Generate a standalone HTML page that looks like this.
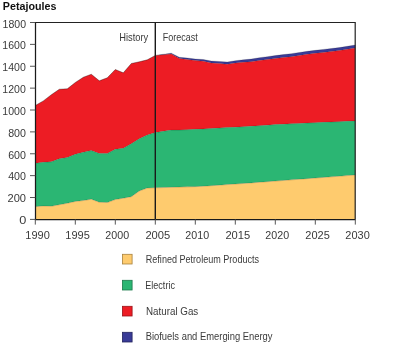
<!DOCTYPE html>
<html><head><meta charset="utf-8"><style>
html,body{margin:0;padding:0;background:#fff;width:400px;height:350px;overflow:hidden}
svg{display:block;will-change:transform}
.t{font-family:"Liberation Sans",sans-serif;font-size:10.5px;fill:#3a3a3a}
.b{font-family:"Liberation Sans",sans-serif;font-size:10px;font-weight:bold;fill:#111}
</style></head><body>
<svg width="400" height="350" viewBox="0 0 400 350">
<path d="M35.3,105.5 L43.3,100.9 L51.3,94.8 L59.3,89.25 L67.3,88.8 L75.3,82.5 L83.3,77.25 L91.3,74.25 L99.3,80.8 L107.3,77.75 L115.3,69.5 L123.3,72.8 L131.3,63.5 L139.3,61.8 L147.3,59.8 L155.3,55.4 L163.3,54.25 L171.3,53.2 L179.3,57.25 L187.3,58 L195.3,59 L203.3,59.5 L211.3,61 L219.3,61.45 L227.3,62.05 L235.3,60.7 L243.3,59.8 L251.3,59.05 L259.3,57.7 L267.3,56.65 L275.3,55.6 L283.3,54.62 L291.3,53.65 L299.3,52.47 L307.3,51.3 L315.3,50.35 L323.3,49.4 L331.3,48.5 L339.3,47.6 L347.3,46.3 L355.3,45 L355.3,48 L347.3,49.3 L339.3,50.6 L331.3,51.5 L323.3,52.4 L315.3,53.35 L307.3,54.3 L299.3,55.47 L291.3,56.65 L283.3,57.62 L275.3,58.6 L267.3,59.52 L259.3,60.45 L251.3,61.67 L243.3,62.3 L235.3,63.05 L227.3,64.25 L219.3,63.5 L211.3,62.9 L203.3,61.25 L195.3,60.6 L187.3,59.45 L179.3,58.55 L171.3,54.1 L163.3,54.75 L155.3,55.4 L147.3,59.8 L139.3,61.8 L131.3,63.5 L123.3,72.8 L115.3,69.5 L107.3,77.75 L99.3,80.8 L91.3,74.25 L83.3,77.25 L75.3,82.5 L67.3,88.8 L59.3,89.25 L51.3,94.8 L43.3,100.9 L35.3,105.5Z" fill="#393B97"/>
<path d="M35.3,105.5 L43.3,100.9 L51.3,94.8 L59.3,89.25 L67.3,88.8 L75.3,82.5 L83.3,77.25 L91.3,74.25 L99.3,80.8 L107.3,77.75 L115.3,69.5 L123.3,72.8 L131.3,63.5 L139.3,61.8 L147.3,59.8 L155.3,55.4 L163.3,54.75 L171.3,54.1 L179.3,58.55 L187.3,59.45 L195.3,60.6 L203.3,61.25 L211.3,62.9 L219.3,63.5 L227.3,64.25 L235.3,63.05 L243.3,62.3 L251.3,61.67 L259.3,60.45 L267.3,59.52 L275.3,58.6 L283.3,57.62 L291.3,56.65 L299.3,55.47 L307.3,54.3 L315.3,53.35 L323.3,52.4 L331.3,51.5 L339.3,50.6 L347.3,49.3 L355.3,48 L355.3,120.9 L347.3,121.26 L339.3,121.63 L331.3,121.99 L323.3,122.35 L315.3,122.71 L307.3,123.07 L299.3,123.43 L291.3,123.79 L283.3,124.15 L275.3,124.61 L267.3,125.13 L259.3,125.65 L251.3,126.17 L243.3,126.69 L235.3,127.16 L227.3,127.59 L219.3,128.03 L211.3,128.46 L203.3,128.9 L195.3,129.35 L187.3,129.65 L179.3,130.1 L171.3,130.1 L163.3,131.3 L155.3,132.6 L147.3,135 L139.3,138.75 L131.3,143.7 L123.3,148.3 L115.3,149.3 L107.3,153.6 L99.3,153.6 L91.3,150.5 L83.3,152.25 L75.3,154.2 L67.3,157.5 L59.3,158.7 L51.3,161.8 L43.3,162.3 L35.3,163.2Z" fill="#ED1C24"/>
<path d="M35.3,163.2 L43.3,162.3 L51.3,161.8 L59.3,158.7 L67.3,157.5 L75.3,154.2 L83.3,152.25 L91.3,150.5 L99.3,153.6 L107.3,153.6 L115.3,149.3 L123.3,148.3 L131.3,143.7 L139.3,138.75 L147.3,135 L155.3,132.6 L163.3,131.3 L171.3,130.1 L179.3,130.1 L187.3,129.65 L195.3,129.35 L203.3,128.9 L211.3,128.46 L219.3,128.03 L227.3,127.59 L235.3,127.16 L243.3,126.69 L251.3,126.17 L259.3,125.65 L267.3,125.13 L275.3,124.61 L283.3,124.15 L291.3,123.79 L299.3,123.43 L307.3,123.07 L315.3,122.71 L323.3,122.35 L331.3,121.99 L339.3,121.63 L347.3,121.26 L355.3,120.9 L355.3,175 L347.3,175.61 L339.3,176.22 L331.3,176.82 L323.3,177.43 L315.3,178.04 L307.3,178.65 L299.3,179.25 L291.3,179.86 L283.3,180.47 L275.3,181.08 L267.3,181.69 L259.3,182.29 L251.3,182.9 L243.3,183.47 L235.3,184.03 L227.3,184.59 L219.3,185.15 L211.3,185.71 L203.3,186.27 L195.3,186.64 L187.3,186.87 L179.3,187.1 L171.3,187.33 L163.3,187.57 L155.3,187.8 L147.3,188 L139.3,191 L131.3,196.7 L123.3,198.2 L115.3,199.55 L107.3,202.55 L99.3,202.25 L91.3,199.2 L83.3,200.55 L75.3,201.45 L67.3,203.25 L59.3,204.75 L51.3,206.25 L43.3,205.95 L35.3,206.7Z" fill="#2BB673"/>
<path d="M35.3,206.7 L43.3,205.95 L51.3,206.25 L59.3,204.75 L67.3,203.25 L75.3,201.45 L83.3,200.55 L91.3,199.2 L99.3,202.25 L107.3,202.55 L115.3,199.55 L123.3,198.2 L131.3,196.7 L139.3,191 L147.3,188 L155.3,187.8 L163.3,187.57 L171.3,187.33 L179.3,187.1 L187.3,186.87 L195.3,186.64 L203.3,186.27 L211.3,185.71 L219.3,185.15 L227.3,184.59 L235.3,184.03 L243.3,183.47 L251.3,182.9 L259.3,182.29 L267.3,181.69 L275.3,181.08 L283.3,180.47 L291.3,179.86 L299.3,179.25 L307.3,178.65 L315.3,178.04 L323.3,177.43 L331.3,176.82 L339.3,176.22 L347.3,175.61 L355.3,175 L355.3,219.9 L347.3,219.9 L339.3,219.9 L331.3,219.9 L323.3,219.9 L315.3,219.9 L307.3,219.9 L299.3,219.9 L291.3,219.9 L283.3,219.9 L275.3,219.9 L267.3,219.9 L259.3,219.9 L251.3,219.9 L243.3,219.9 L235.3,219.9 L227.3,219.9 L219.3,219.9 L211.3,219.9 L203.3,219.9 L195.3,219.9 L187.3,219.9 L179.3,219.9 L171.3,219.9 L163.3,219.9 L155.3,219.9 L147.3,219.9 L139.3,219.9 L131.3,219.9 L123.3,219.9 L115.3,219.9 L107.3,219.9 L99.3,219.9 L91.3,219.9 L83.3,219.9 L75.3,219.9 L67.3,219.9 L59.3,219.9 L51.3,219.9 L43.3,219.9 L35.3,219.9Z" fill="#FECB6E"/>
<path d="M35.3,105.5 L43.3,100.9 L51.3,94.8 L59.3,89.25 L67.3,88.8 L75.3,82.5 L83.3,77.25 L91.3,74.25 L99.3,80.8 L107.3,77.75 L115.3,69.5 L123.3,72.8 L131.3,63.5 L139.3,61.8 L147.3,59.8 L155.3,55.4 L163.3,54.25 L171.3,53.2 L179.3,57.25 L187.3,58 L195.3,59 L203.3,59.5 L211.3,61 L219.3,61.45 L227.3,62.05 L235.3,60.7 L243.3,59.8 L251.3,59.05 L259.3,57.7 L267.3,56.65 L275.3,55.6 L283.3,54.62 L291.3,53.65 L299.3,52.47 L307.3,51.3 L315.3,50.35 L323.3,49.4 L331.3,48.5 L339.3,47.6 L347.3,46.3 L355.3,45" fill="none" stroke="rgba(0,0,0,0.35)" stroke-width="0.5"/>
<path d="M35.3,105.5 L43.3,100.9 L51.3,94.8 L59.3,89.25 L67.3,88.8 L75.3,82.5 L83.3,77.25 L91.3,74.25 L99.3,80.8 L107.3,77.75 L115.3,69.5 L123.3,72.8 L131.3,63.5 L139.3,61.8 L147.3,59.8 L155.3,55.4 L163.3,54.75 L171.3,54.1 L179.3,58.55 L187.3,59.45 L195.3,60.6 L203.3,61.25 L211.3,62.9 L219.3,63.5 L227.3,64.25 L235.3,63.05 L243.3,62.3 L251.3,61.67 L259.3,60.45 L267.3,59.52 L275.3,58.6 L283.3,57.62 L291.3,56.65 L299.3,55.47 L307.3,54.3 L315.3,53.35 L323.3,52.4 L331.3,51.5 L339.3,50.6 L347.3,49.3 L355.3,48" fill="none" stroke="rgba(0,0,0,0.35)" stroke-width="0.5"/>
<path d="M35.3,163.2 L43.3,162.3 L51.3,161.8 L59.3,158.7 L67.3,157.5 L75.3,154.2 L83.3,152.25 L91.3,150.5 L99.3,153.6 L107.3,153.6 L115.3,149.3 L123.3,148.3 L131.3,143.7 L139.3,138.75 L147.3,135 L155.3,132.6 L163.3,131.3 L171.3,130.1 L179.3,130.1 L187.3,129.65 L195.3,129.35 L203.3,128.9 L211.3,128.46 L219.3,128.03 L227.3,127.59 L235.3,127.16 L243.3,126.69 L251.3,126.17 L259.3,125.65 L267.3,125.13 L275.3,124.61 L283.3,124.15 L291.3,123.79 L299.3,123.43 L307.3,123.07 L315.3,122.71 L323.3,122.35 L331.3,121.99 L339.3,121.63 L347.3,121.26 L355.3,120.9" fill="none" stroke="rgba(0,0,0,0.35)" stroke-width="0.5"/>
<path d="M35.3,206.7 L43.3,205.95 L51.3,206.25 L59.3,204.75 L67.3,203.25 L75.3,201.45 L83.3,200.55 L91.3,199.2 L99.3,202.25 L107.3,202.55 L115.3,199.55 L123.3,198.2 L131.3,196.7 L139.3,191 L147.3,188 L155.3,187.8 L163.3,187.57 L171.3,187.33 L179.3,187.1 L187.3,186.87 L195.3,186.64 L203.3,186.27 L211.3,185.71 L219.3,185.15 L227.3,184.59 L235.3,184.03 L243.3,183.47 L251.3,182.9 L259.3,182.29 L267.3,181.69 L275.3,181.08 L283.3,180.47 L291.3,179.86 L299.3,179.25 L307.3,178.65 L315.3,178.04 L323.3,177.43 L331.3,176.82 L339.3,176.22 L347.3,175.61 L355.3,175" fill="none" stroke="rgba(0,0,0,0.35)" stroke-width="0.5"/>
<path d="M35.5,22.5 H355.2 V219.4" fill="none" stroke="#222" stroke-width="1.2"/><path d="M35.5,22 V219.5 H355.5" fill="none" stroke="#1a1a1a" stroke-width="1.25"/>
<path d="M155.3,22.5 V219.4" fill="none" stroke="#1a1a1a" stroke-width="1.4"/>
<path d="M30,219.4 H35.3 M30,197.52 H35.3 M30,175.64 H35.3 M30,153.77 H35.3 M30,131.89 H35.3 M30,110.01 H35.3 M30,88.13 H35.3 M30,66.26 H35.3 M30,44.38 H35.3 M30,22.5 H35.3 M35.3,219.4 V224.6 M75.3,219.4 V224.6 M115.3,219.4 V224.6 M155.3,219.4 V224.6 M195.3,219.4 V224.6 M235.3,219.4 V224.6 M275.3,219.4 V224.6 M315.3,219.4 V224.6 M355.3,219.4 V224.6" fill="none" stroke="#555" stroke-width="1"/>
<text class="t" x="19.2" y="224.34" textLength="7.07" lengthAdjust="spacingAndGlyphs">0</text>
<text class="t" x="7.52" y="202.27" textLength="18.5" lengthAdjust="spacingAndGlyphs">200</text>
<text class="t" x="8.15" y="180.07" textLength="17.81" lengthAdjust="spacingAndGlyphs">400</text>
<text class="t" x="8.15" y="158.7" textLength="17.81" lengthAdjust="spacingAndGlyphs">600</text>
<text class="t" x="8.15" y="136.63" textLength="17.81" lengthAdjust="spacingAndGlyphs">800</text>
<text class="t" x="2.35" y="114.57" textLength="23.45" lengthAdjust="spacingAndGlyphs">1000</text>
<text class="t" x="2.35" y="92.5" textLength="23.45" lengthAdjust="spacingAndGlyphs">1200</text>
<text class="t" x="2.35" y="71.13" textLength="23.45" lengthAdjust="spacingAndGlyphs">1400</text>
<text class="t" x="2.35" y="49.07" textLength="23.45" lengthAdjust="spacingAndGlyphs">1600</text>
<text class="t" x="2.6" y="27.7" textLength="23.43" lengthAdjust="spacingAndGlyphs">1800</text>
<text class="t" x="25.31" y="239.14" textLength="24.46" lengthAdjust="spacingAndGlyphs">1990</text>
<text class="t" x="65.3" y="239.14" textLength="24.51" lengthAdjust="spacingAndGlyphs">1995</text>
<text class="t" x="105.39" y="239.14" textLength="23.84" lengthAdjust="spacingAndGlyphs">2000</text>
<text class="t" x="145.4" y="239.14" textLength="24.83" lengthAdjust="spacingAndGlyphs">2005</text>
<text class="t" x="185.39" y="239.14" textLength="23.84" lengthAdjust="spacingAndGlyphs">2010</text>
<text class="t" x="225.4" y="239.14" textLength="24.83" lengthAdjust="spacingAndGlyphs">2015</text>
<text class="t" x="265.39" y="239.14" textLength="23.84" lengthAdjust="spacingAndGlyphs">2020</text>
<text class="t" x="305.37" y="239.14" textLength="24.45" lengthAdjust="spacingAndGlyphs">2025</text>
<text class="t" x="345.37" y="239.14" textLength="24.41" lengthAdjust="spacingAndGlyphs">2030</text>
<text class="t" x="119.23" y="40.6" textLength="29.04" lengthAdjust="spacingAndGlyphs">History</text>
<text class="t" x="162.75" y="40.5" textLength="34.97" lengthAdjust="spacingAndGlyphs">Forecast</text>
<text class="b" x="2.86" y="9.7" textLength="53.61" lengthAdjust="spacingAndGlyphs">Petajoules</text>
<text class="t" x="145.77" y="263.45" textLength="113.3" lengthAdjust="spacingAndGlyphs">Refined Petroleum Products</text>
<text class="t" x="145.31" y="288.6" textLength="29.63" lengthAdjust="spacingAndGlyphs">Electric</text>
<text class="t" x="146" y="315" textLength="52.25" lengthAdjust="spacingAndGlyphs">Natural Gas</text>
<text class="t" x="145.65" y="340.35" textLength="126.88" lengthAdjust="spacingAndGlyphs">Biofuels and Emerging Energy</text>
<rect x="122.4" y="254.3" width="9.7" height="9.7" fill="#FECB6E" stroke="#A8823E" stroke-width="0.8"/>
<rect x="122.4" y="280.3" width="9.7" height="9.7" fill="#2BB673" stroke="#1C7A4C" stroke-width="0.8"/>
<rect x="122.4" y="306.3" width="9.7" height="9.7" fill="#ED1C24" stroke="#9A1318" stroke-width="0.8"/>
<rect x="122.4" y="332.3" width="9.7" height="9.7" fill="#393B97" stroke="#23245E" stroke-width="0.8"/>
</svg>
</body></html>
